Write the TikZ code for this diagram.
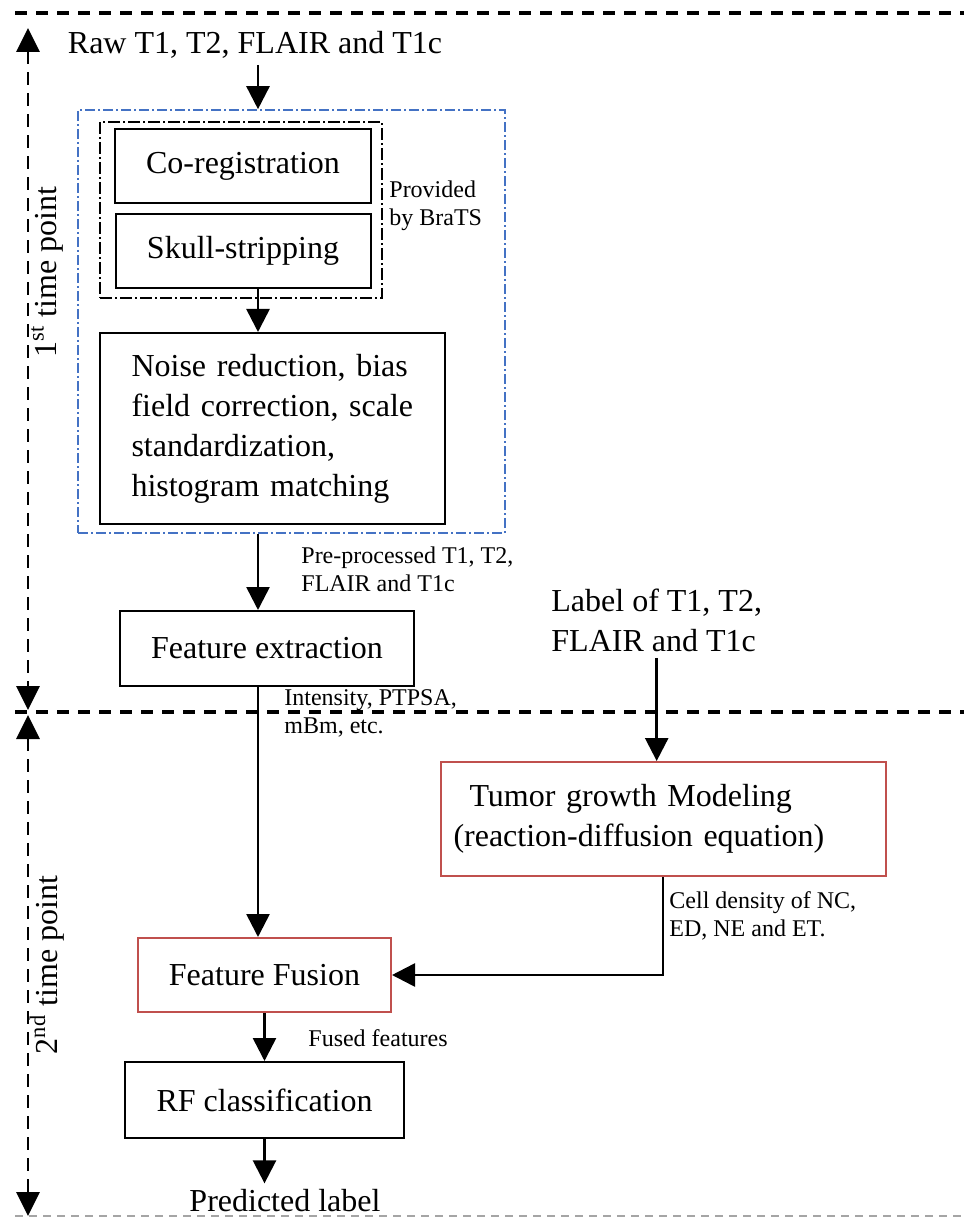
\documentclass[tikz,border=0pt]{standalone}
\usepackage{fontspec}
\setmainfont{Liberation Serif}
\usetikzlibrary{arrows.meta, positioning}
\definecolor{frameblue}{RGB}{68, 114, 196}
\definecolor{modelred}{RGB}{192, 80, 77}
\definecolor{rulegray}{RGB}{165, 165, 165}

\begin{document}
\begin{tikzpicture}[x=0.5pt, y=-0.5pt,
  big/.style={font=\fontsize{16}{20}\selectfont},
  small/.style={font=\fontsize{12}{14}\selectfont},
  stepbox/.style={draw, rectangle, line width=1pt, big, inner sep=0pt},
  redbox/.style={stepbox, draw=modelred},
  note/.style={small, inner sep=0pt, align=left, anchor=west},
  flow/.style={-{Triangle[width=11.5pt, length=11.5pt]}, line width=1.3pt},
  period/.style={{Triangle[width=11.5pt, length=12pt]}-{Triangle[width=11.5pt, length=12pt]}, line width=1.4pt, dash pattern=on 6.5pt off 4pt},
  sep/.style={line width=1.6pt, dash pattern=on 6pt off 4.5pt}]
  \useasboundingbox (0,0) rectangle (964,1218);

  % Time point rules
  \draw[sep] (15,13) -- (964,13);
  \draw[sep] (15,712) -- (964,712);
  \draw[rulegray, line width=0.6pt, dash pattern=on 4pt off 3pt] (15,1216) -- (964,1216);
  \coordinate (t1top) at (28,28);
  \coordinate (t1bot) at (28,710);
  \coordinate (t2top) at (28,715);
  \coordinate (t2bot) at (28,1216);
  \draw[period] (t1top) -- (t1bot);
  \draw[period] (t2top) -- (t2bot);
  \node[big, rotate=90] (first) at (47,272) {1\textsuperscript{st} time point};
  \node[big, rotate=90] (second) at (47,965) {2\textsuperscript{nd} time point};

  % Nodes
  \coordinate (spine) at (258,0);
  \node[big, inner sep=3pt] (raw) at (255,45) {Raw T1, T2, FLAIR and T1c};
  \node[draw=frameblue, line width=0.8pt, dash pattern=on 5pt off 1.5pt on 1pt off 1.5pt, minimum width=213.5pt, minimum height=211.5pt] (prep) at (291.5,321.5) {};
  \node[draw, line width=1pt, dash pattern=on 6pt off 1.5pt on 1pt off 1.5pt, minimum width=141pt, minimum height=88pt] (brats) at (241,210) {};
  \node[stepbox, minimum width=128pt, minimum height=37pt] (coreg) at (243,166) {Co-registration};
  \node[stepbox, minimum width=127.5pt, minimum height=37pt, below=4.5pt of coreg] (skull) {Skull-stripping};
  \node[note] (provided) at (389,206) {Provided\\by BraTS};
  \node[stepbox, text width=141pt, inner xsep=15.75pt, minimum height=95.5pt, align=left] (noise) at (272.5,428.5) {Noise reduction, bias\\field correction, scale\\standardization,\\histogram matching};
  \node[note] (preproc) at (301,569) {Pre-processed T1, T2,\\FLAIR and T1c};
  \node[stepbox, minimum width=147pt, minimum height=37.5pt] (extract) at (267,648.5) {Feature extraction};
  \node[note] (intensity) at (284,713) {Intensity, PTPSA,\\mBm, etc.};
  \node[big, inner sep=3pt, align=left, anchor=west] (labels) at (545,620) {Label of T1, T2,\\FLAIR and T1c};
  \node[redbox, text width=209.5pt, inner xsep=6.5pt, minimum height=57pt, align=left] (tumor) at (663,819) {\hspace*{8pt}Tumor growth Modeling\\(reaction-diffusion equation)};
  \node[note] (density) at (669,916) {Cell density of NC,\\ED, NE and ET.};
  \node[redbox, minimum width=126.5pt, minimum height=37pt] (fusion) at (264.5,975) {Feature Fusion};
  \node[note] (fused) at (308,1038) {Fused features};
  \node[stepbox, minimum width=139.5pt, minimum height=38pt, below=24pt of fusion] (rf) {RF classification};
  \node[big, inner sep=3pt] (pred) at (285,1201) {Predicted label};

  % Arrows
  \draw[flow] (raw.south -| spine) -- (prep.north -| spine);
  \draw[flow] (skull.south -| spine) -- (noise.north -| spine);
  \draw[flow] (prep.south -| spine) -- (extract.north -| spine);
  \draw[flow] (extract.south -| spine) -- (fusion.north -| spine);
  \draw[flow] (labels.south) -- (labels.south |- tumor.north);
  \draw[flow] (tumor.south) |- (fusion.east);
  \draw[flow] (fusion.south) -- (rf.north);
  \draw[flow] (rf.south) -- (rf.south |- pred.north);
\end{tikzpicture}
\end{document}
